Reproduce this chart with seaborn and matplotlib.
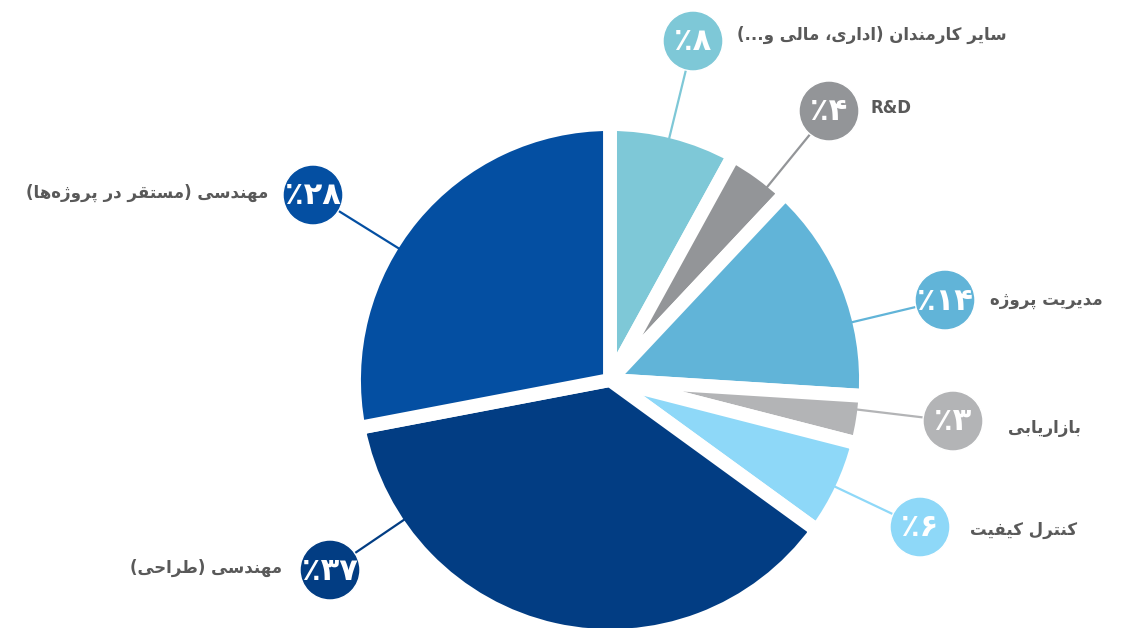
import numpy as np
import matplotlib
matplotlib.use('Agg')
import matplotlib.pyplot as plt
import seaborn as sns
from matplotlib.patches import Circle

# داده‌ها
labels = ['سایر کارمندان (اداری، مالی و...)', 'R&D', 'مدیریت پروژه', 'بازاریابی',
          'کنترل کیفیت', 'مهندسی (طراحی)', 'مهندسی (مستقر در پروژه\u200cها)']
values = [8, 4, 14, 3, 6, 37, 28]
colors = ['#7EC8D7', '#939598', '#61B4D8', '#B3B4B6', '#8ED8F8', '#023D83', '#044FA2']

# layout (pixels from top-left)
badge_x = [693, 829, 945, 953, 920, 330, 313]
badge_y = [41, 111, 300, 421, 527, 570, 195]
label_x = [737, 870, 990, 1008, 970, 282, 268]
label_y = [35, 108, 300, 428, 530, 568, 193]
label_ha = ['left', 'left', 'left', 'left', 'left', 'right', 'right']

# شکل‌دهی حروف فارسی (matplotlib خودش shaping ندارد)
FORMS = {
    'ا': ('\uFE8D', '\uFE8E', None, None),
    'ب': ('\uFE8F', '\uFE90', '\uFE91', '\uFE92'),
    'پ': ('\uFB56', '\uFB57', '\uFB58', '\uFB59'),
    'ت': ('\uFE95', '\uFE96', '\uFE97', '\uFE98'),
    'ح': ('\uFEA1', '\uFEA2', '\uFEA3', '\uFEA4'),
    'د': ('\uFEA9', '\uFEAA', None, None),
    'ر': ('\uFEAD', '\uFEAE', None, None),
    'ز': ('\uFEAF', '\uFEB0', None, None),
    'ژ': ('\uFB8A', '\uFB8B', None, None),
    'س': ('\uFEB1', '\uFEB2', '\uFEB3', '\uFEB4'),
    'ط': ('\uFEC1', '\uFEC2', '\uFEC3', '\uFEC4'),
    'ف': ('\uFED1', '\uFED2', '\uFED3', '\uFED4'),
    'ق': ('\uFED5', '\uFED6', '\uFED7', '\uFED8'),
    'ک': ('\uFB8E', '\uFB8F', '\uFB90', '\uFB91'),
    'ل': ('\uFEDD', '\uFEDE', '\uFEDF', '\uFEE0'),
    'م': ('\uFEE1', '\uFEE2', '\uFEE3', '\uFEE4'),
    'ن': ('\uFEE5', '\uFEE6', '\uFEE7', '\uFEE8'),
    'و': ('\uFEED', '\uFEEE', None, None),
    'ه': ('\uFEE9', '\uFEEA', '\uFEEB', '\uFEEC'),
    'ی': ('\uFBFC', '\uFBFD', '\uFBFE', '\uFBFF'),
}


def fa(text):
    text = text.replace('ي', 'ی').replace('ك', 'ک')
    if not any(c in FORMS for c in text):
        return text
    out = []
    for i, c in enumerate(text):
        if c not in FORMS:
            if c != '\u200c':
                out.append(c)
            continue
        prev_c = text[i - 1] if i > 0 else ''
        next_c = text[i + 1] if i + 1 < len(text) else ''
        j_prev = prev_c in FORMS and FORMS[prev_c][2] is not None
        j_next = FORMS[c][2] is not None and next_c in FORMS
        f = FORMS[c]
        if j_prev and j_next:
            out.append(f[3])
        elif j_prev:
            out.append(f[1])
        elif j_next:
            out.append(f[2])
        else:
            out.append(f[0])
    vis = ''.join(reversed(out))
    return vis.translate(str.maketrans('()', ')('))


def fa_pct(v):
    return '٪' + str(v).translate(str.maketrans('0123456789', '۰۱۲۳۴۵۶۷۸۹'))


sns.set_theme(style='white')
plt.rcParams['font.family'] = ['DejaVu Sans']

W, H = 1123, 628
fig = plt.figure(figsize=(W / 100, H / 100), dpi=100)
ax = fig.add_axes([0, 0, 1, 1])

cx, cy = 610, H - 380
R = 256
ax.pie(values, colors=colors, startangle=90, counterclock=False,
       center=(cx, cy), radius=R,
       wedgeprops=dict(edgecolor='white', linewidth=10, joinstyle='miter'))
ax.set_xlim(0, W)
ax.set_ylim(0, H)
ax.set_aspect('equal')
ax.axis('off')

for i in range(len(values)):
    bx, by = badge_x[i], H - badge_y[i]
    ang = np.arctan2(by - cy, bx - cx)
    sx, sy = cx + (R - 8) * np.cos(ang), cy + (R - 8) * np.sin(ang)
    ax.plot([sx, bx], [sy, by], color=colors[i], lw=1.6, zorder=3)
    ax.add_patch(Circle((bx, by), 30, facecolor=colors[i], edgecolor='white', lw=1, zorder=4))
    ax.text(bx, by - 1, fa_pct(values[i]), color='white', fontsize=22, fontweight='bold',
            ha='center', va='center', zorder=5)
    ax.text(label_x[i], H - label_y[i], fa(labels[i]), color='#595959', fontsize=12,
            fontweight='bold', ha=label_ha[i], va='center', zorder=5)

plt.savefig('out.png', dpi=100, facecolor='white')
